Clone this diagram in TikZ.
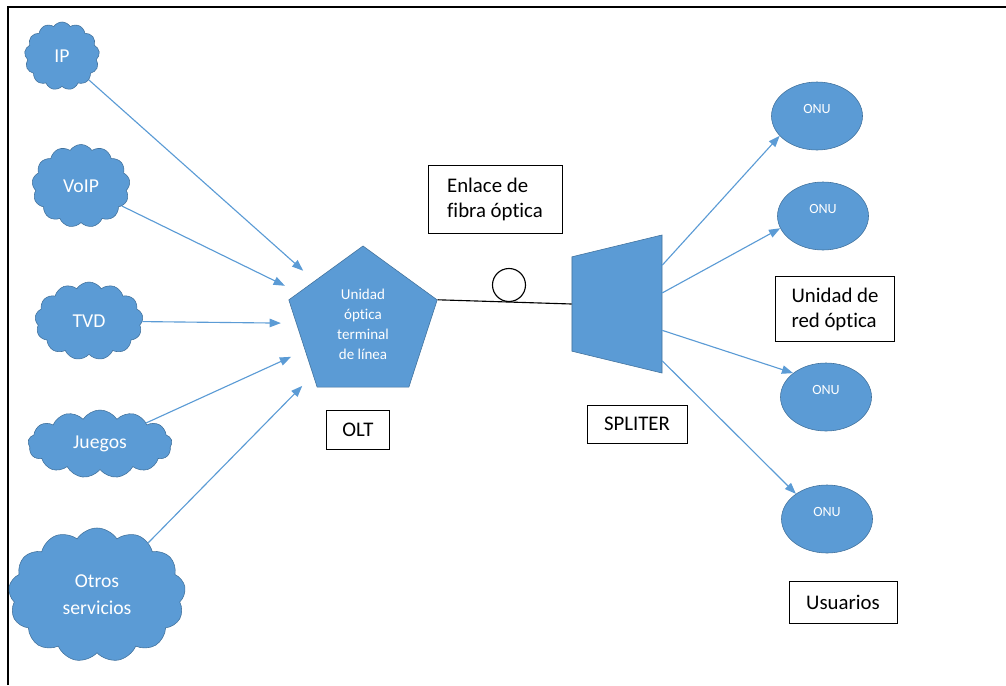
\documentclass[tikz,border=0pt]{standalone}
\usepackage{fontspec}
\setmainfont{Carlito}[Ligatures=NoCommon]
\usepackage{tikz}
\usetikzlibrary{shapes.geometric, shapes.symbols, arrows.meta, calc}
\definecolor{office}{HTML}{5B9BD5}
\definecolor{officedark}{HTML}{41719C}
\tikzstyle{service} = [cloud, cloud puffs=13, cloud puff arc=115, cloud ignores aspect,
draw=officedark, fill=office, text=white, align=center, inner sep=0pt,
font=\fontsize{14}{19}\selectfont]
\tikzstyle{pentblock} = [regular polygon, regular polygon sides=5, minimum size=3.9cm,
draw=officedark, fill=office, text=white, align=center, inner sep=0pt,
font=\fontsize{10.7}{14.2}\selectfont]
\tikzstyle{splitter} = [trapezium, trapezium stretches=true, trapezium angle=77,
rotate=90, minimum width=3.45cm, minimum height=2.25cm, inner sep=2pt,
draw=officedark, fill=office]
\tikzstyle{onu} = [ellipse, draw=officedark, fill=office, minimum width=2.275cm,
minimum height=1.7cm, text=white, text depth=0.35cm, inner sep=0pt,
font=\fontsize{10}{12}\selectfont]
\tikzstyle{textbox} = [draw, line width=0.6pt, align=left,
font=\fontsize{14.8}{17.8}\selectfont]
\tikzstyle{flow} = [draw=office, line width=0.8pt, -{Triangle[length=8pt,width=6pt]},
shorten >=0.38cm]
\tikzstyle{drop} = [draw=office, line width=0.8pt, -{Triangle[length=8pt,width=6pt]}]

\begin{document}
\begin{tikzpicture}[x=0.025cm, y=-0.025cm]
	\useasboundingbox (0,0) rectangle (1006,685);
	\draw [line width=1.4pt] (8,685) -- (8,7) -- (1006,7);

	% We start by placing the services on the left
	\node [service, minimum width=1.875cm, minimum height=1.7cm] (ip) at (62,56) {IP};
	\node [service, minimum width=2.45cm, minimum height=2.075cm] (voip) at (81,186) {VoIP};
	\node [service, minimum width=2.7cm, minimum height=1.95cm] (tvd) at (89,321) {TVD};
	\node [service, minimum width=3.6cm, minimum height=1.7cm] (juegos) at (100,444) {Juegos};
	\node [service, minimum width=4.425cm, minimum height=3.35cm] (otros) at (97,595) {Otros\\servicios};

	% The OLT, the fibre link and the splitter
	\node [pentblock] (olt) at (363,324) {Unidad\\óptica\\terminal\\de línea};
	\node [splitter] (spl) at (617,304) {};
	\node [draw, circle, minimum size=0.825cm, inner sep=0pt, line width=0.8pt] (loop) at (509,285) {};
	\draw [line width=0.8pt] (olt.corner 5) -- (spl.north);

	% The units at the users' side
	\node [onu] (onu1) at (817,116) {ONU};
	\node [onu] (onu2) at (823,216) {ONU};
	\node [onu] (onu3) at (826,397) {ONU};
	\node [onu] (onu4) at (827,519) {ONU};

	% Text boxes
	\node [textbox, minimum width=3.35cm, minimum height=1.7cm] (fibra) at (495,199) {Enlace de\\fibra óptica};
	\node [textbox, minimum width=1.575cm, minimum height=0.975cm] (oltname) at (358,430) {OLT};
	\node [textbox, minimum width=2.5cm, minimum height=0.95cm] (splname) at (637,424) {SPLITER};
	\node [textbox, minimum width=2.975cm, minimum height=1.625cm] (onuname) at (835,309) {Unidad de\\red óptica};
	\node [textbox, minimum width=2.7cm, minimum height=1.05cm] (users) at (843,602) {Usuarios};

	% Connecting the services with the OLT
	\foreach \s in {ip, voip, tvd, juegos, otros}
		\draw [flow] (\s) -- (olt);

	% Exit points on the splitter side
	\coordinate (s1) at ($(spl.bottom right corner)!0.22!(spl.bottom left corner)$);
	\coordinate (s2) at ($(spl.bottom right corner)!0.42!(spl.bottom left corner)$);
	\coordinate (s3) at ($(spl.bottom right corner)!0.69!(spl.bottom left corner)$);
	\coordinate (s4) at ($(spl.bottom right corner)!0.91!(spl.bottom left corner)$);
	\draw [drop] (s1) -- (onu1.208);
	\draw [drop] (s2) -- (onu2.196);
	\draw [drop] (s3) -- (onu3.144);
	\draw [drop] (s4) -- (onu4.141);
\end{tikzpicture}
\end{document}
